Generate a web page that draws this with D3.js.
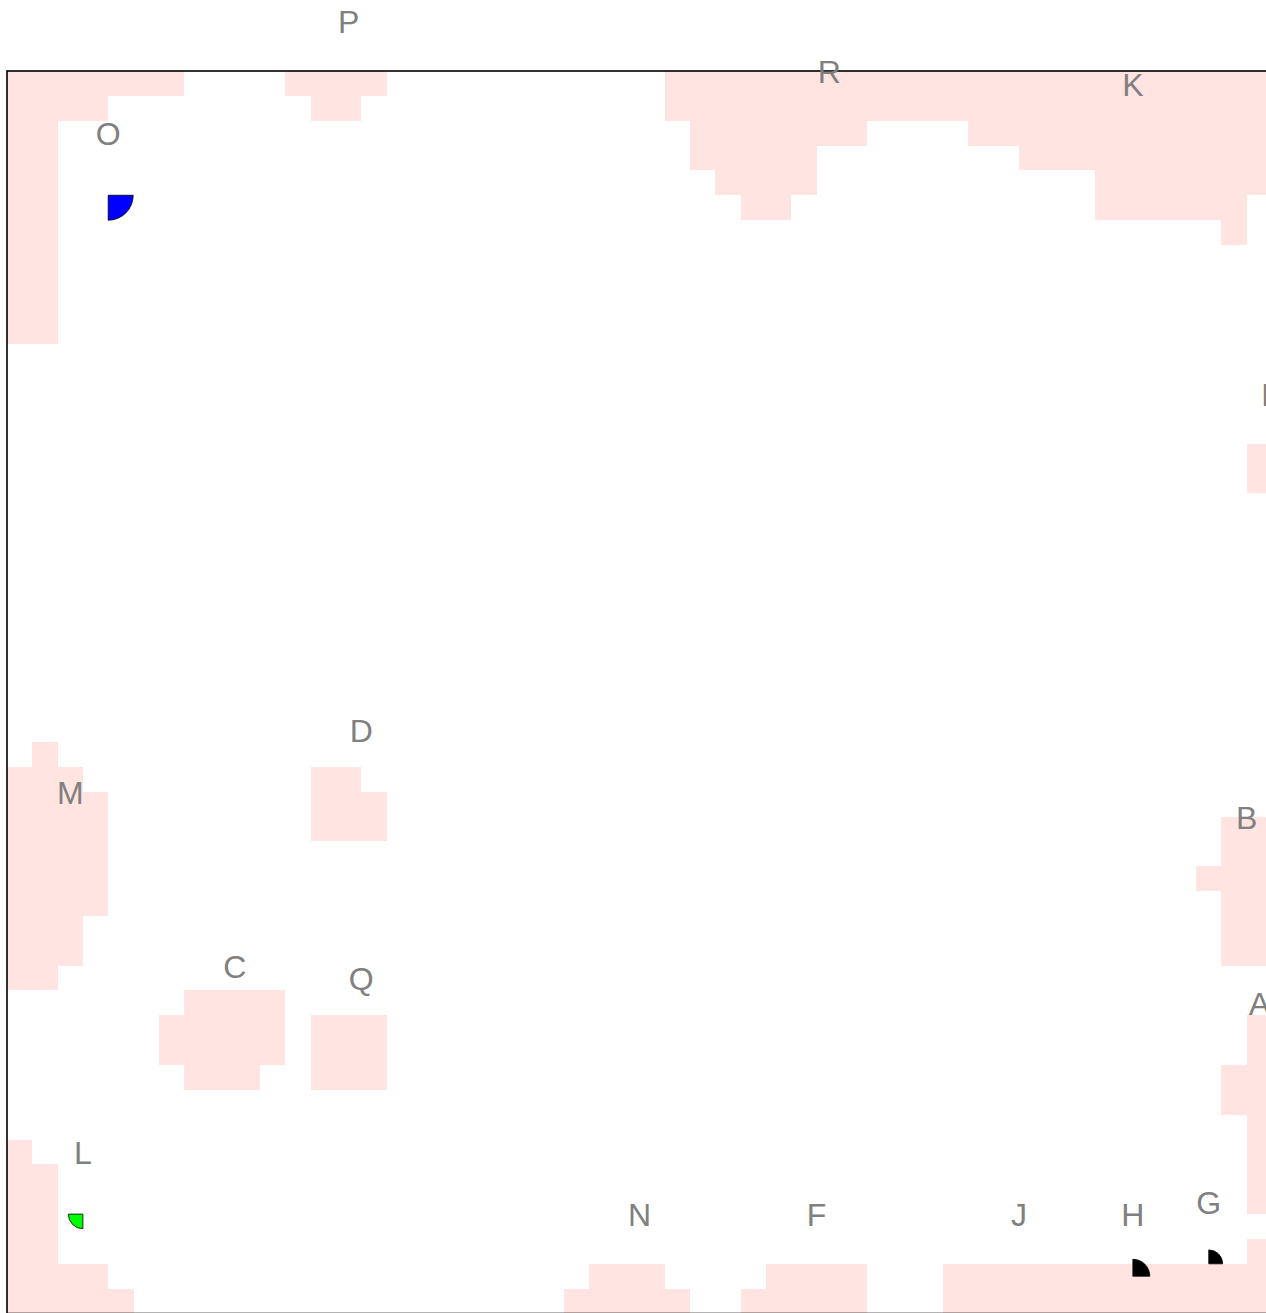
<!DOCTYPE html>
<html>
<head>
<meta charset="utf-8">
<script src="https://cdn.jsdelivr.net/npm/d3@7"></script>
<style>
  body { margin: 0; overflow: hidden; background: #fff; }
</style>
</head>
<body>
<div id="grid"></div>
<script>

// pink cells, one run per row: [row, first col, last col]
var pinkRuns = [
  [0,0,6],[0,11,14],[0,26,49],
  [1,0,3],[1,12,13],[1,26,49],
  [2,0,1],[2,27,33],[2,38,49],
  [3,0,1],[3,27,31],[3,40,49],
  [4,0,1],[4,28,31],[4,43,49],
  [5,0,1],[5,29,30],[5,43,48],
  [6,0,1],[6,48,48],
  [7,0,1],[8,0,1],[9,0,1],[10,0,1],
  [15,49,49],[16,49,49],
  [27,1,1],
  [28,0,2],[28,12,13],
  [29,0,3],[29,12,14],
  [30,0,3],[30,12,14],[30,48,49],
  [31,0,3],[31,48,49],
  [32,0,3],[32,47,49],
  [33,0,3],[33,48,49],
  [34,0,2],[34,48,49],
  [35,0,2],[35,48,49],
  [36,0,1],
  [37,7,10],
  [38,6,10],[38,12,14],[38,49,49],
  [39,6,10],[39,12,14],[39,49,49],
  [40,7,9],[40,12,14],[40,48,49],
  [41,48,49],
  [42,49,49],
  [43,0,0],[43,49,49],
  [44,0,1],[44,49,49],
  [45,0,1],[45,49,49],
  [46,0,1],
  [47,0,1],[47,49,49],
  [48,0,3],[48,23,25],[48,30,33],[48,37,49],
  [49,0,4],[49,22,26],[49,29,33],[49,37,49]
];

// labelled points (grid units)
var pointLabels = ["A","B","C","D","E","F","G","H","J","K","L","M","N","O","P","Q","R"];
var pointX = [49.5, 49, 9, 14, 50, 32, 47.5, 44.5, 40, 44.5, 3, 2.5, 25, 4, 13.5, 14, 32.5];
var pointY = [40, 32.5, 38.5, 29, 15.5, 48.5, 48, 48.5, 48.5, 3, 46, 31.5, 48.5, 5, 0.5, 39, 2.5];

// quarter wedges at some points
var markerLabels = ["O", "L", "H", "G"];
var markerQuadrant = [1, 2, 0, 0];
var markerSize = [1.0, 0.34, 0.46, 0.31];

var quadrantColors = ["#000000", "#0000ff", "#00ff00", "#ff0000"];

drawGrid();

function drawGrid(){

  var svgWidth = 1266;
  var svgHeight = 1313;

  var xScale = d3.scaleLinear()
    .domain([0, 50])
    .range([7, 1272]);

  var yScale = d3.scaleLinear()
    .domain([0, 50])
    .range([71, 1313.5]);

  var rScale = d3.scaleSqrt()
    .domain([0, 1])
    .range([0, 25]);

  var svg = d3.select("#grid")
    .append("svg")
    .attr("width", svgWidth)
    .attr("height", svgHeight);

  svg.selectAll("rect.cell")
    .data(pinkRuns)
    .enter()
    .append("rect")
    .attr("class", "cell")
    .attr("x", function(d) { return xScale(d[1]); })
    .attr("y", function(d) { return yScale(d[0]); })
    .attr("width", function(d) { return xScale(d[2] + 1) - xScale(d[1]); })
    .attr("height", function(d) { return yScale(d[0] + 1) - yScale(d[0]); })
    .attr("fill", "#ffe4e1")
    .attr("shape-rendering", "crispEdges");

  // frame
  svg.append("rect")
    .attr("x", xScale(0))
    .attr("y", yScale(0))
    .attr("width", xScale(50) - xScale(0))
    .attr("height", yScale(50) - yScale(0))
    .attr("fill", "none")
    .attr("stroke", "#000")
    .attr("stroke-width", 1.6);

  var arc = d3.arc().innerRadius(0);

  svg.selectAll("path.wedge")
    .data(markerLabels)
    .enter()
    .append("path")
    .attr("class", "wedge")
    .attr("transform", function(d) {
      var i = pointLabels.indexOf(d);
      return "translate(" + xScale(pointX[i]) + "," + yScale(pointY[i]) + ")";
    })
    .attr("d", function(d, i) {
      var q = markerQuadrant[i];
      return arc({
        outerRadius: rScale(markerSize[i]),
        startAngle: q * Math.PI / 2,
        endAngle: (q + 1) * Math.PI / 2
      });
    })
    .attr("fill", function(d, i) { return quadrantColors[markerQuadrant[i]]; })
    .attr("stroke", "#000")
    .attr("stroke-width", 0.8);

  svg.selectAll("text.label")
    .data(pointLabels)
    .enter()
    .append("text")
    .attr("class", "label")
    .attr("x", function(d, i) { return xScale(pointX[i]); })
    .attr("y", function(d, i) { return yScale(pointY[i]) - 50; })
    .attr("text-anchor", "middle")
    .attr("font-family", "'Liberation Sans', Arial, sans-serif")
    .attr("font-size", "32px")
    .attr("fill", "#808080")
    .text(function(d) { return d; });
}

</script>
</body>
</html>
